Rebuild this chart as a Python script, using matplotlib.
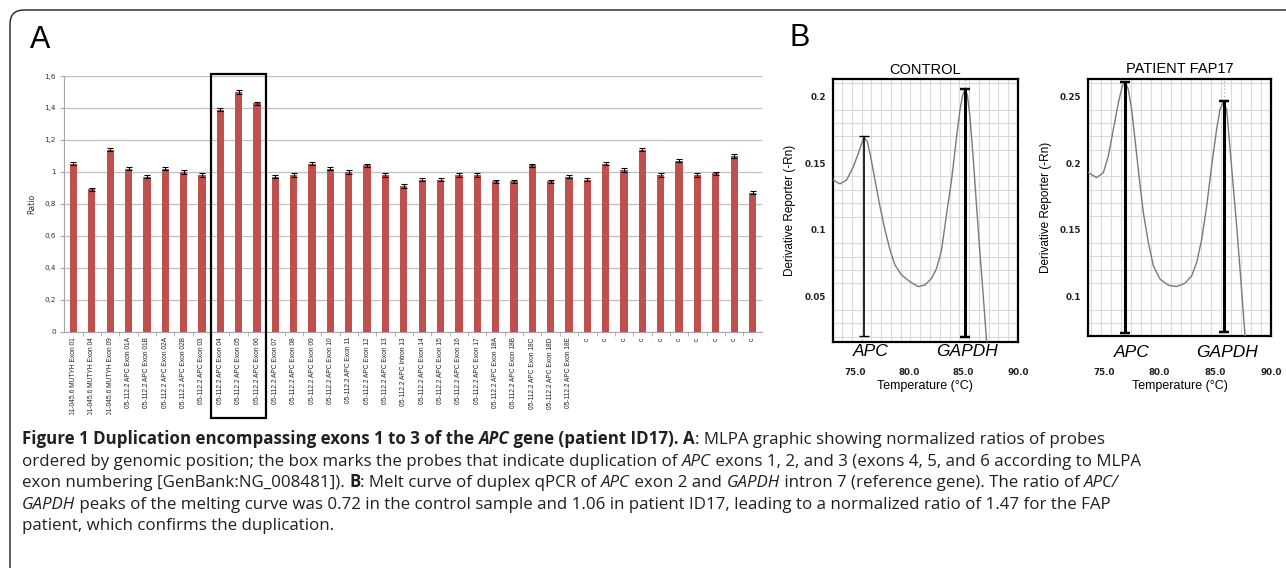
import numpy as np
import matplotlib
matplotlib.use('Agg')
import matplotlib.pyplot as plt
from matplotlib.patches import Rectangle, FancyBboxPatch
from matplotlib.ticker import MultipleLocator
from matplotlib.transforms import IdentityTransform, blended_transform_factory, Bbox

# ---- panel A data (MLPA ratios) ----
probes = ['01-045.6 MUTYH Exon 01', '01-045.6 MUTYH Exon 04', '01-045.6 MUTYH Exon 09',
          '05-112.2 APC Exon 01A', '05-112.2 APC Exon 01B', '05-112.2 APC Exon 02A',
          '05-112.2 APC Exon 02B', '05-112.2 APC Exon 03', '05-112.2 APC Exon 04',
          '05-112.2 APC Exon 05', '05-112.2 APC Exon 06', '05-112.2 APC Exon 07',
          '05-112.2 APC Exon 08', '05-112.2 APC Exon 09', '05-112.2 APC Exon 10',
          '05-112.2 APC Exon 11', '05-112.2 APC Exon 12', '05-112.2 APC Exon 13',
          '05-112.2 APC Intron 13', '05-112.2 APC Exon 14', '05-112.2 APC Exon 15',
          '05-112.2 APC Exon 16', '05-112.2 APC Exon 17', '05-112.2 APC Exon 18A',
          '05-112.2 APC Exon 18B', '05-112.2 APC Exon 18C', '05-112.2 APC Exon 18D',
          '05-112.2 APC Exon 18E', 'c', 'c', 'c', 'c', 'c', 'c', 'c', 'c', 'c', 'c']
ratios = [1.05, 0.89, 1.14, 1.02, 0.97, 1.02, 1.00, 0.98, 1.39, 1.50, 1.43,
          0.97, 0.98, 1.05, 1.02, 1.00, 1.04, 0.98, 0.91, 0.95, 0.95, 0.98,
          0.98, 0.94, 0.94, 1.04, 0.94, 0.97, 0.95, 1.05, 1.01, 1.14, 0.98,
          1.07, 0.98, 0.99, 1.10, 0.87]
errs = [0.01, 0.01, 0.01, 0.01, 0.01, 0.01, 0.012, 0.01, 0.01, 0.01, 0.01,
        0.01, 0.01, 0.01, 0.01, 0.012, 0.01, 0.01, 0.012, 0.01, 0.01, 0.01,
        0.01, 0.01, 0.01, 0.01, 0.01, 0.01, 0.01, 0.01, 0.012, 0.01, 0.01,
        0.01, 0.01, 0.01, 0.01, 0.01]
ratio_ticks = [0, 0.2, 0.4, 0.6, 0.8, 1.0, 1.2, 1.4, 1.6]
ratio_labels = ['0', '0,2', '0,4', '0,6', '0,8', '1', '1,2', '1,4', '1,6']
dup_first, dup_last = 8, 10   # boxed probes

# ---- panel B data (melt curves) ----
ctrl_temp = [72.95, 73.62, 74.24, 74.85, 75.31, 75.62, 75.83, 76.14, 76.44, 76.84,
             77.30, 77.76, 78.22, 78.68, 79.29, 80.06, 80.83, 81.44, 82.05, 82.51,
             82.97, 83.43, 83.89, 84.35, 84.66, 84.91, 85.12, 85.34, 85.58, 85.89,
             86.19, 86.50, 86.81, 87.11]
ctrl_deriv = [0.1374, 0.1344, 0.1374, 0.1473, 0.1573, 0.1648, 0.1693, 0.1660, 0.1548, 0.1374,
              0.1174, 0.1000, 0.0850, 0.0737, 0.0662, 0.0612, 0.0575, 0.0588, 0.0637, 0.0712,
              0.0850, 0.1120, 0.1374, 0.1698, 0.1897, 0.2010, 0.2047, 0.2010, 0.1848, 0.1523,
              0.1174, 0.0825, 0.0500, 0.0163]
pat_temp = [73.60, 74.35, 74.95, 75.40, 75.85, 76.30, 76.65, 76.90, 77.19, 77.49,
            77.79, 78.15, 78.54, 78.99, 79.44, 80.04, 80.78, 81.53, 82.28, 82.88,
            83.33, 83.78, 84.23, 84.67, 85.12, 85.42, 85.72, 86.02, 86.23, 86.53,
            86.92, 87.31, 87.67]
pat_deriv = [0.1928, 0.1891, 0.1928, 0.2053, 0.2253, 0.2452, 0.2577, 0.2607, 0.2552, 0.2402,
             0.2178, 0.1903, 0.1629, 0.1404, 0.1230, 0.1130, 0.1085, 0.1075, 0.1100, 0.1155,
             0.1255, 0.1429, 0.1679, 0.1978, 0.2253, 0.2402, 0.2457, 0.2402, 0.2200, 0.1903,
             0.1529, 0.1105, 0.0706]
# peak markers: (temperature, low, high)
ctrl_apc = (75.83, 0.0206, 0.1700)
ctrl_gapdh = (85.12, 0.0201, 0.2057)
pat_apc = (76.90, 0.0726, 0.2607)
pat_gapdh = (85.81, 0.0731, 0.2465)
temp_ticks = [75, 80, 85, 90]
temp_labels = ['75.0', '80.0', '85.0', '90.0']

W, H = 1286, 568
fig = plt.figure(figsize=(W / 100, H / 100), dpi=100)


def box(l, t, r, b):
    return [l / W, 1 - b / H, (r - l) / W, (b - t) / H]


# outer rounded frame
frame = FancyBboxPatch((10, -100), 1400, H - 10 + 100,
                       boxstyle='round,pad=0,rounding_size=14',
                       fill=False, ec='#333333', lw=1.1,
                       transform=IdentityTransform())
fig.patches.append(frame)

fig.text(40 / W, 1 - 40 / H, 'A', fontsize=22, family='Liberation Sans',
         ha='center', va='center')
fig.text(800 / W, 1 - 38 / H, 'B', fontsize=22, family='Liberation Sans',
         ha='center', va='center')

# ---- panel A ----
ax = fig.add_axes(box(64.3, 76, 761.7, 331.7))
x = np.arange(len(probes))
ax.bar(x, ratios, width=0.4, color='#C0504D', zorder=3,
       yerr=errs, error_kw=dict(ecolor='black', elinewidth=0.8, capsize=2, capthick=0.8))
ax.set_xlim(-0.5, len(probes) - 0.5)
ax.set_ylim(0, 1.6)
ax.set_yticks(ratio_ticks)
ax.set_yticklabels(ratio_labels)
ax.yaxis.grid(True, color='#c0c0c0', lw=0.9, zorder=0)
for s in ['top', 'right']:
    ax.spines[s].set_visible(False)
ax.spines['left'].set_color('#a6a6a6')
ax.spines['bottom'].set_color('#a6a6a6')
ax.set_xticks(x)
ax.set_xticklabels(probes, rotation=90, fontsize=4.8,
                   family=['Liberation Sans Narrow', 'Liberation Sans'])
ax.set_xticks(x[:-1] + 0.5, minor=True)
ax.tick_params(axis='x', which='major', length=0, pad=4, colors='#222222')
ax.tick_params(axis='x', which='minor', length=3, color='#a6a6a6')
ax.tick_params(axis='y', length=3, color='#a6a6a6', labelsize=5.2, pad=3,
               labelcolor='#333333')
ax.set_ylabel('Ratio', fontsize=5.6, labelpad=6, color='#333333')
ax.add_patch(Rectangle((dup_first - 0.5, -0.542), dup_last - dup_first + 1, 1.6125 + 0.542,
                       fill=False, ec='black', lw=1.6, clip_on=False, zorder=5))
# the long probe names are cut off at the bottom, as in the original export
label_clip = Bbox([[0, H - 415], [W, H]])
for lab in ax.get_xticklabels():
    lab.set_clip_box(label_clip)
    lab.set_clip_on(True)


# ---- panel B ----
def melt(rect, temps, deriv, xlim, ylim, yticks, apc, gapdh, title, tick_pad, lbl_y, apc_lw):
    a = fig.add_axes(rect)
    a.set_xlim(*xlim)
    a.set_ylim(*ylim)
    a.xaxis.set_minor_locator(MultipleLocator(0.9))
    a.yaxis.set_minor_locator(MultipleLocator(0.01))
    a.grid(which='minor', color='#d9d9d9', lw=0.8, zorder=0)
    a.axvline(gapdh[0], color='#8fbcd8', ls=':', lw=1.0, zorder=1)
    a.plot(temps, deriv, color='#7a7a7a', lw=1.0, zorder=3)
    for (t, lo, hi), lw in [(apc, apc_lw), (gapdh, 2.2)]:
        a.vlines(t, lo, hi, color='black', lw=lw, zorder=4)
        a.hlines([lo, hi], t - 0.45, t + 0.45, color='black', lw=lw * 0.8, zorder=4)
    a.set_xticks(temp_ticks)
    a.set_xticklabels(temp_labels)
    a.set_yticks(yticks)
    a.set_yticklabels([('%g' % v) for v in yticks])
    a.tick_params(which='both', length=0)
    a.tick_params(axis='x', pad=tick_pad, labelsize=6.3)
    a.tick_params(axis='y', pad=5, labelsize=6.3)
    for lab in a.get_xticklabels() + a.get_yticklabels():
        lab.set_fontweight('bold')
        lab.set_color('#222222')
    for s in a.spines.values():
        s.set_linewidth(1.6)
    a.set_xlabel('Temperature (°C)', fontsize=9, family='Liberation Sans', labelpad=2)
    a.set_ylabel('Derivative Reporter (-Rn)', fontsize=8.5, family='Liberation Sans', labelpad=6)
    a.set_title(title, fontsize=10.5, family='Liberation Sans', pad=4)
    tr = blended_transform_factory(a.transData, a.transAxes)
    for t, name in [(apc[0] + 0.6, 'APC'), (gapdh[0] + 0.2, 'GAPDH')]:
        a.text(t, lbl_y, name, transform=tr, fontsize=12.5, style='italic',
               family='Liberation Sans', ha='center', va='center')
    return a


melt(box(832.7, 79.3, 1018, 341.7), ctrl_temp, ctrl_deriv, (72.95, 90.0), (0.0163, 0.2127),
     [0.05, 0.1, 0.15, 0.2], ctrl_apc, ctrl_gapdh, 'CONTROL', 19, -0.039, 1.2)
melt(box(1088.3, 78.7, 1271, 336.3), pat_temp, pat_deriv, (73.6, 90.0), (0.0702, 0.2632),
     [0.1, 0.15, 0.2, 0.25], pat_apc, pat_gapdh, 'PATIENT FAP17', 23, -0.061, 2.2)

# ---- caption ----
cap_lines = [
    [('Figure 1 Duplication encompassing exons 1 to 3 of the ', 'b'), ('APC', 'bi'),
     (' gene (patient ID17). A', 'b'), (': MLPA graphic showing normalized ratios of probes', 'r')],
    [('ordered by genomic position; the box marks the probes that indicate duplication of ', 'r'),
     ('APC', 'i'), (' exons 1, 2, and 3 (exons 4, 5, and 6 according to MLPA', 'r')],
    [('exon numbering [GenBank:NG_008481]). ', 'r'), ('B', 'b'),
     (': Melt curve of duplex qPCR of ', 'r'), ('APC', 'i'), (' exon 2 and ', 'r'),
     ('GAPDH', 'i'), (' intron 7 (reference gene). The ratio of ', 'r'), ('APC/', 'i')],
    [('GAPDH', 'i'), (' peaks of the melting curve was 0.72 in the control sample and 1.06 in '
                      'patient ID17, leading to a normalized ratio of 1.47 for the FAP', 'r')],
    [('patient, which confirms the duplication.', 'r')],
]
cap_size = 12.2
renderer = fig.canvas.get_renderer()


def style_kw(code):
    return dict(fontsize=cap_size, family='Open Sans', color='#231f20',
                fontweight='bold' if 'b' in code else 'normal',
                fontstyle='italic' if 'i' in code else 'normal')


def advance(s, code):
    kw = style_kw(code)
    t1 = fig.text(0, 0, '|' + s + '|', **kw)
    t2 = fig.text(0, 0, '||', **kw)
    w = t1.get_window_extent(renderer).width - t2.get_window_extent(renderer).width
    t1.remove()
    t2.remove()
    return w


for i, line in enumerate(cap_lines):
    xpos = 22
    ybase = H - (444.5 + 21.4 * i)
    for s, code in line:
        fig.text(xpos, ybase, s, transform=IdentityTransform(), ha='left', va='baseline',
                 **style_kw(code))
        xpos += advance(s, code)

fig.savefig('out.png', dpi=100)
